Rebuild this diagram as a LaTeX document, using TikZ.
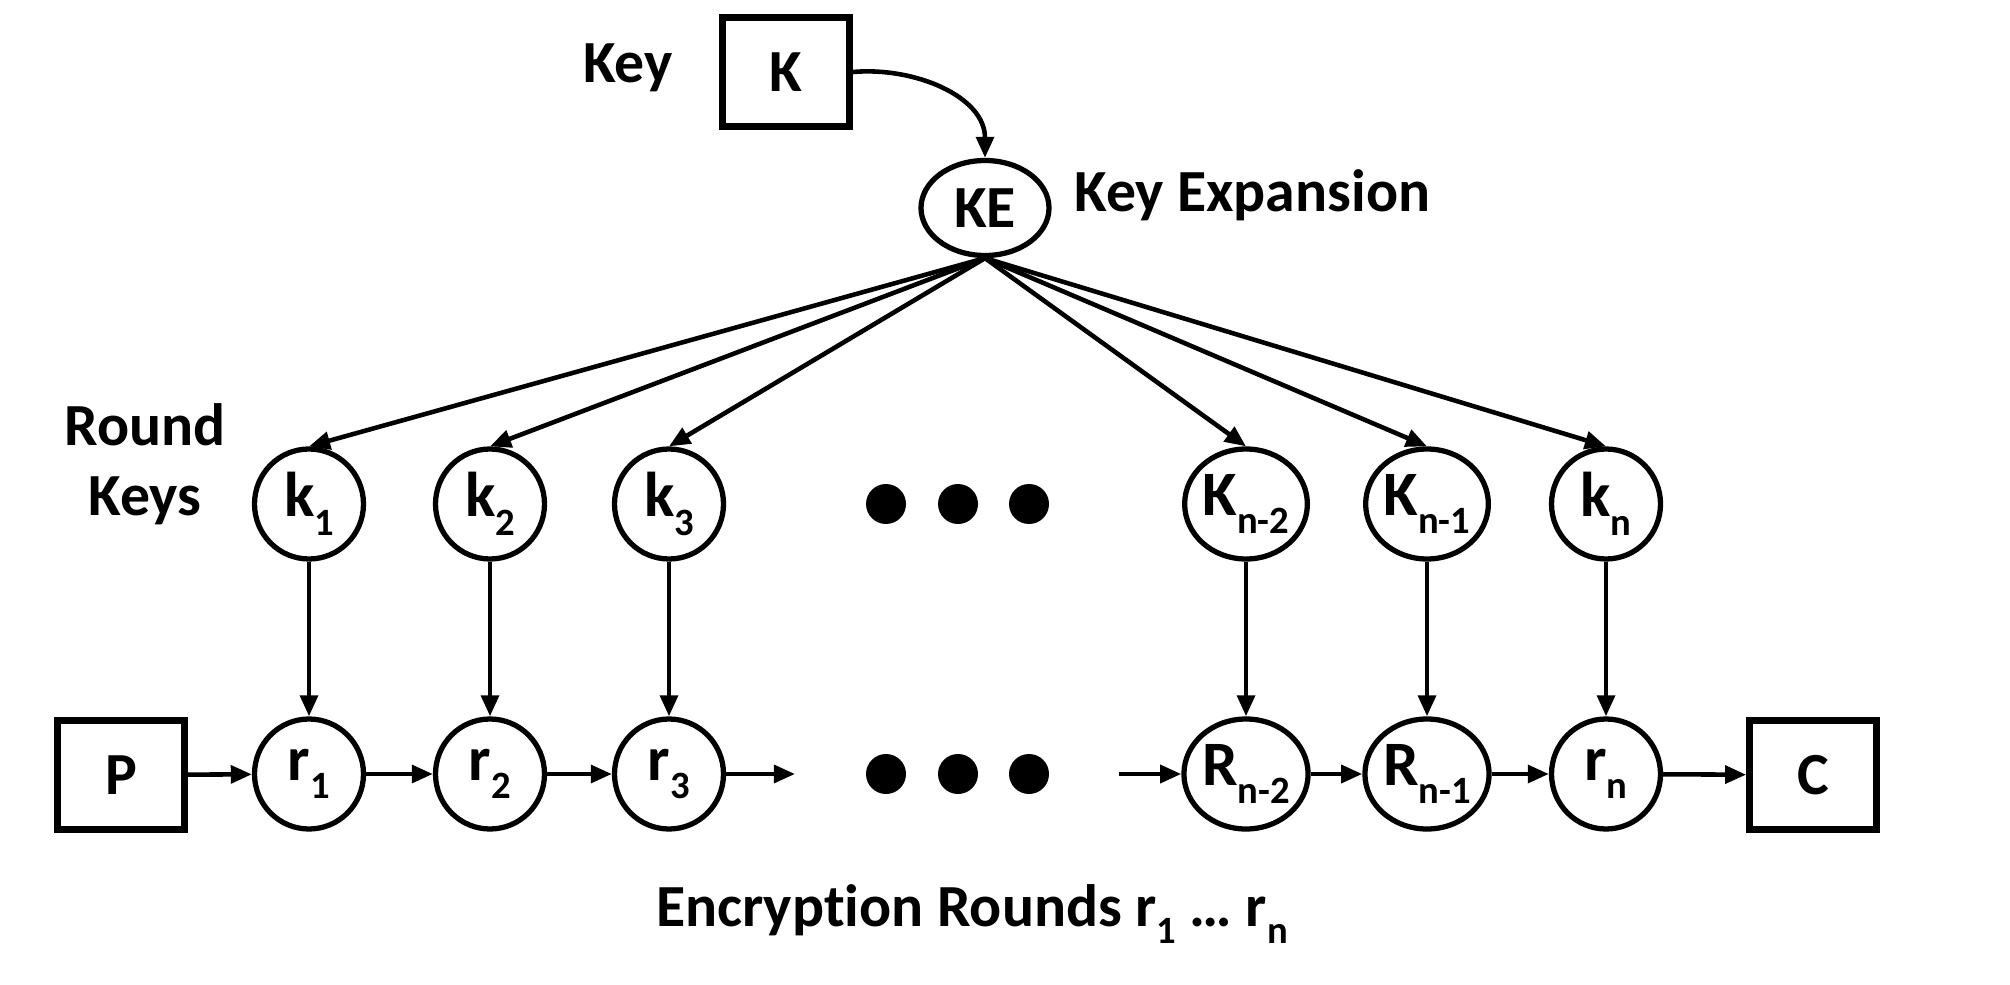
\documentclass[tikz,border=0pt]{standalone}
\usepackage{fontspec}
\setmainfont{Carlito}[Ligatures=NoCommon]
\usetikzlibrary{arrows.meta, shapes.geometric}

\newcommand{\lo}[1]{\raisebox{-0.6ex}{\fontsize{11}{11}\selectfont #1}}

\begin{document}
\begin{tikzpicture}[>={Triangle[length=6pt, width=5pt]}, font=\fontsize{17}{20}\selectfont\bfseries,
    keybox/.style={draw, line width=1.9pt, minimum width=1.27cm, minimum height=1.09cm, inner sep=0pt},
    rnode/.style={draw, ellipse, line width=1.5pt, minimum width=1.09cm, minimum height=1.1cm, inner sep=0pt,
      font=\fontsize{18}{20}\selectfont\bfseries},
    bigdot/.style={fill, circle, minimum size=0.4cm, inner sep=0pt},
    link/.style={->, line width=1.3pt}]
  \useasboundingbox (0, 0) rectangle (20.1, 9.84);

  \node[keybox] (K) at (7.86, 9.12) {K};
  \node (keylbl) at (6.28, 9.16) {Key};
  \node[draw, ellipse, line width=1.5pt, minimum width=1.28cm, minimum height=0.95cm, inner sep=0pt] (KE) at (9.85, 7.76) {KE};
  \node[anchor=west] (kelbl) at (10.62, 7.89) {Key Expansion};
  \node[align=center] (rklbl) at (1.45, 5.20) {Round\\Keys};

  % round keys
  \node[rnode] (k1) at (3.09, 4.80) {k\lo{1}};
  \node[rnode] (k2) at (4.90, 4.80) {k\lo{2}};
  \node[rnode] (k3) at (6.69, 4.80) {k\lo{3}};
  \node[rnode] (k4) at (12.46, 4.80) {K\lo{n-2}};
  \node[rnode] (k5) at (14.27, 4.80) {K\lo{n-1}};
  \node[rnode] (k6) at (16.06, 4.80) {k\lo{n}};

  % rounds
  \node[keybox] (P) at (1.21, 2.09) {P};
  \node[rnode] (r1) at (3.09, 2.10) {r\lo{1}};
  \node[rnode] (r2) at (4.90, 2.10) {r\lo{2}};
  \node[rnode] (r3) at (6.69, 2.10) {r\lo{3}};
  \node[rnode] (r4) at (12.46, 2.10) {R\lo{n-2}};
  \node[rnode] (r5) at (14.27, 2.10) {R\lo{n-1}};
  \node[rnode] (r6) at (16.06, 2.10) {r\lo{n}};
  \node[keybox] (C) at (18.13, 2.09) {C};

  \node[bigdot] (d1) at (8.86, 4.80) {};
  \node[bigdot] (d2) at (9.58, 4.80) {};
  \node[bigdot] (d3) at (10.29, 4.80) {};
  \node[bigdot] (d4) at (8.86, 2.10) {};
  \node[bigdot] (d5) at (9.58, 2.10) {};
  \node[bigdot] (d6) at (10.29, 2.10) {};
  \coordinate (gapL) at (7.95, 2.10);
  \coordinate (gapR) at (11.19, 2.10);

  \draw[link] (K.east) to[out=5, in=90] (KE.north);
  \draw[link] (KE.south) -- (k1.north);
  \draw[link] (KE.south) -- (k2.north);
  \draw[link] (KE.south) -- (k3.north);
  \draw[link] (KE.south) -- (k4.north);
  \draw[link] (KE.south) -- (k5.north);
  \draw[link] (KE.south) -- (k6.north);

  \draw[link] (k1) -- (r1);
  \draw[link] (k2) -- (r2);
  \draw[link] (k3) -- (r3);
  \draw[link] (k4) -- (r4);
  \draw[link] (k5) -- (r5);
  \draw[link] (k6) -- (r6);

  \draw[link] (P) -- (r1);
  \draw[link] (r1) -- (r2);
  \draw[link] (r2) -- (r3);
  \draw[link] (r3) -- (gapL);
  \draw[link] (gapR) -- (r4);
  \draw[link] (r4) -- (r5);
  \draw[link] (r5) -- (r6);
  \draw[link] (r6) -- (C);

  \node (enclbl) at (9.72, 0.70) {Encrypt\kern0pt ion Rounds r\lo{1} \dots{} r\lo{n}};
\end{tikzpicture}
\end{document}
